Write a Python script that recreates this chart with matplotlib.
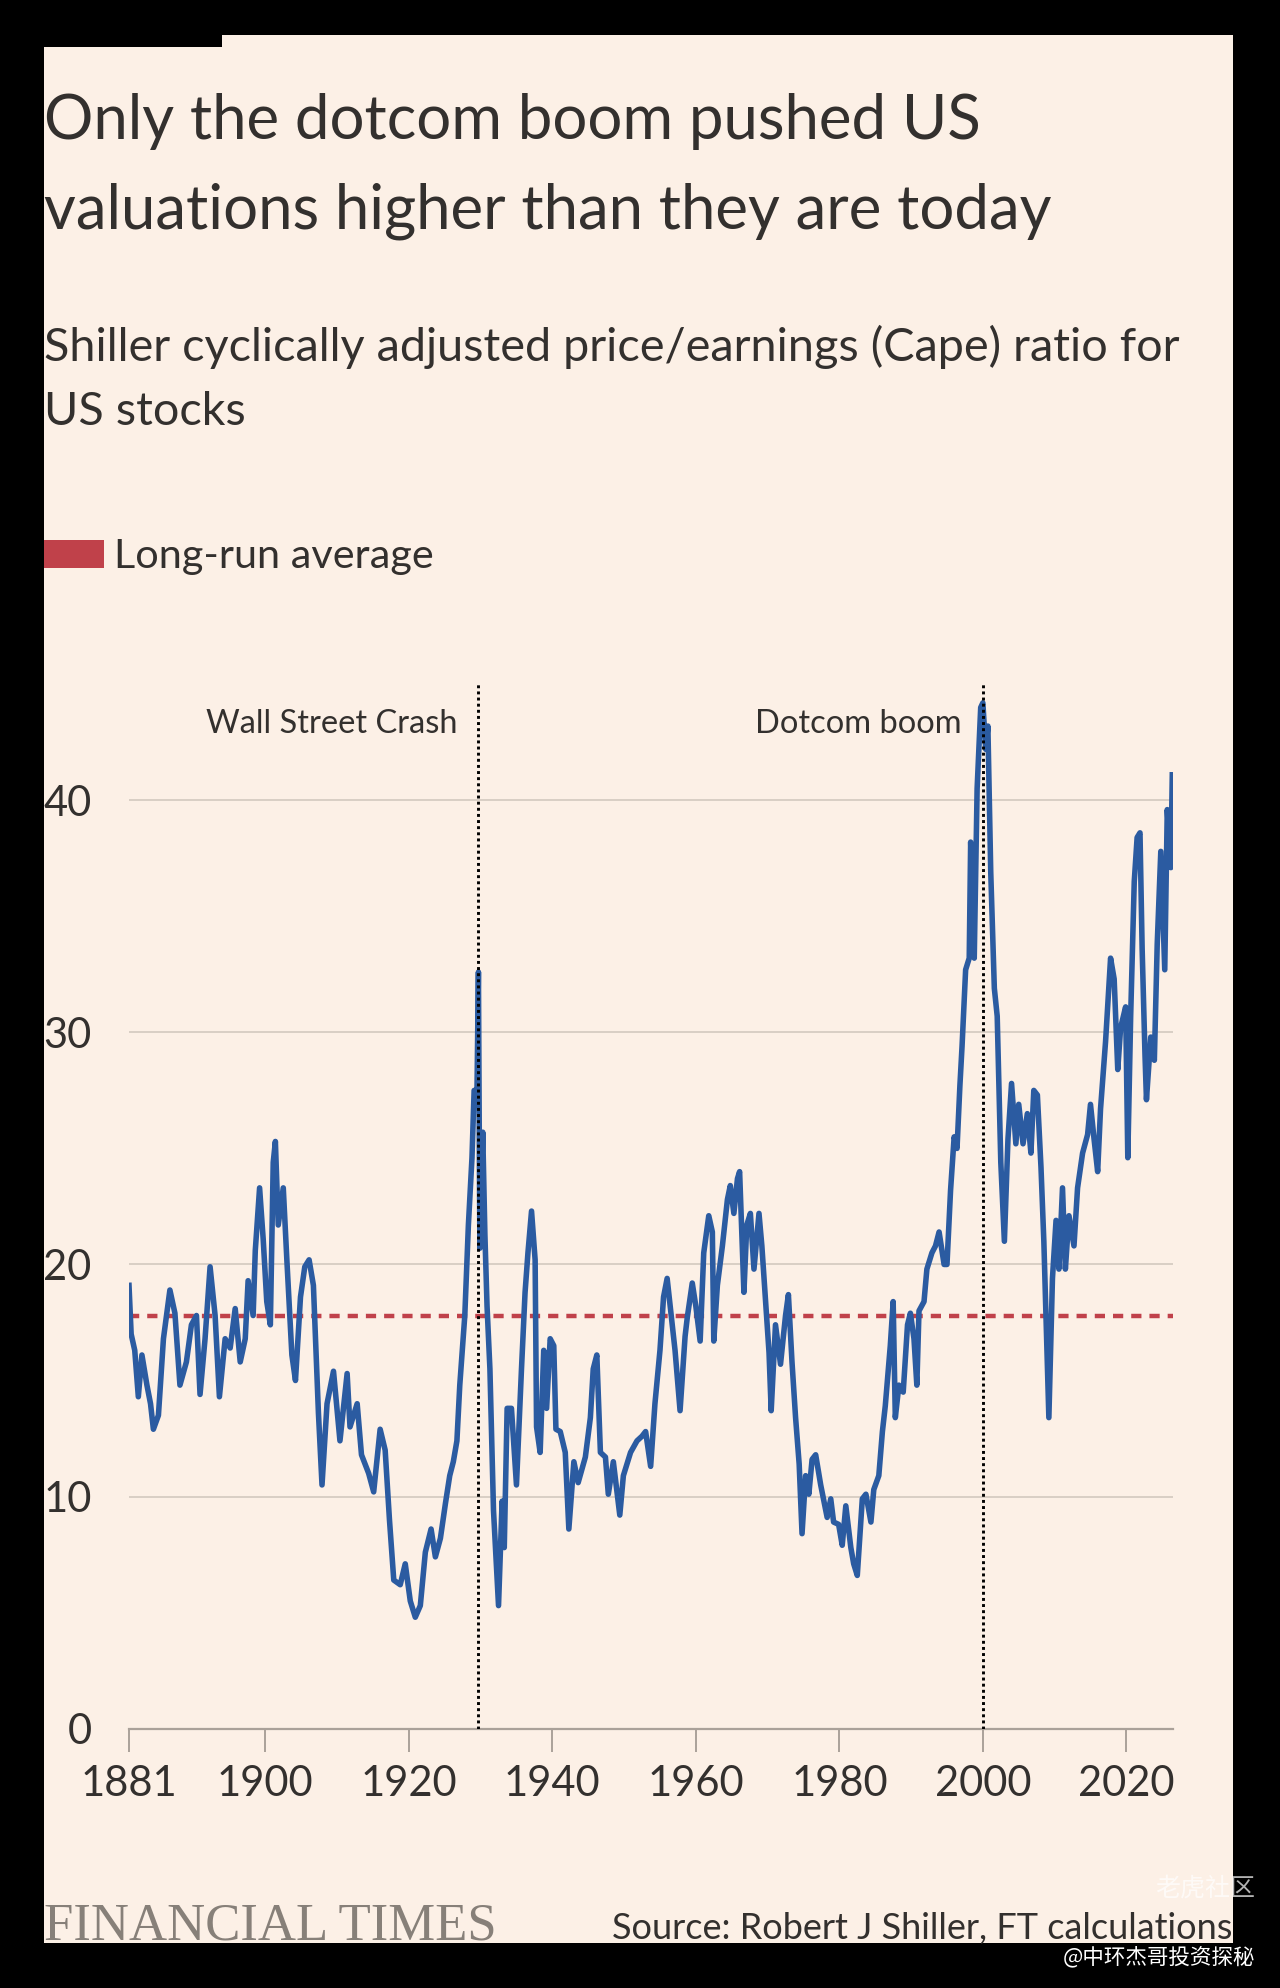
import matplotlib
matplotlib.use("Agg")
import matplotlib.pyplot as plt
from matplotlib.patches import Rectangle

# Shiller Cape ratio
years = [
    1881.0, 1881.3, 1881.8, 1882.3, 1882.8, 1883.5, 1884.0, 1884.4, 1885.1, 1885.8,
    1886.7, 1887.4, 1888.1, 1889.0, 1889.7, 1890.4, 1890.9, 1891.6, 1892.3, 1893.0,
    1893.6, 1894.4, 1895.1, 1895.8, 1896.5, 1897.2, 1897.6, 1898.3, 1898.6, 1899.2,
    1899.7, 1900.2, 1900.7, 1901.1, 1901.4, 1901.8, 1902.5, 1903.0, 1903.7, 1904.2,
    1904.9, 1905.5, 1906.1, 1906.7, 1907.4, 1907.9, 1908.6, 1909.5, 1910.4, 1911.4,
    1911.8, 1912.8, 1913.4, 1914.4, 1915.1, 1916.0, 1916.7, 1917.3, 1917.9, 1918.8,
    1919.5, 1920.2, 1920.9, 1921.6, 1922.3, 1923.1, 1923.7, 1924.4, 1925.1, 1925.7,
    1926.2, 1926.7, 1927.1, 1927.8, 1928.3, 1928.8, 1929.1, 1929.5, 1929.7, 1929.9,
    1930.3, 1930.6, 1930.9, 1931.3, 1931.8, 1932.5, 1933.0, 1933.3, 1933.7, 1934.3,
    1935.0, 1935.7, 1936.2, 1936.6, 1937.1, 1937.6, 1937.8, 1938.3, 1938.8, 1939.2,
    1939.7, 1940.2, 1940.5, 1941.1, 1941.8, 1942.3, 1943.0, 1943.6, 1944.6, 1945.3,
    1945.7, 1946.2, 1946.7, 1947.4, 1947.8, 1948.5, 1949.4, 1949.9, 1950.9, 1951.8,
    1952.5, 1953.0, 1953.7, 1954.3, 1955.0, 1955.5, 1956.0, 1956.7, 1957.1, 1957.8,
    1958.5, 1958.8, 1959.5, 1960.0, 1960.6, 1961.1, 1961.8, 1962.3, 1962.5, 1963.0,
    1963.7, 1964.4, 1964.8, 1965.3, 1965.8, 1966.1, 1966.4, 1966.7, 1967.1, 1967.6,
    1968.1, 1968.8, 1969.2, 1969.7, 1970.2, 1970.5, 1971.1, 1971.8, 1972.5, 1972.9,
    1973.4, 1973.9, 1974.4, 1974.8, 1975.3, 1975.75, 1976.2, 1976.7, 1977.4, 1978.3,
    1978.8, 1979.2, 1979.9, 1980.4, 1980.9, 1981.6, 1982.0, 1982.5, 1983.2, 1983.7,
    1984.4, 1984.8, 1985.5, 1986.0, 1986.4, 1987.1, 1987.5, 1987.8, 1988.3, 1988.9,
    1989.5, 1989.9, 1990.4, 1990.8, 1991.1, 1991.8, 1992.2, 1992.9, 1993.4, 1993.9,
    1994.6, 1995.0, 1995.5, 1996.0, 1996.4, 1996.8, 1997.1, 1997.6, 1998.1, 1998.3,
    1998.8, 1999.2, 1999.7, 2000.0, 2000.4, 2000.7, 2001.1, 2001.6, 2002.0, 2002.5,
    2003.0, 2003.5, 2004.0, 2004.6, 2005.0, 2005.6, 2006.2, 2006.7, 2007.1, 2007.6,
    2008.1, 2008.5, 2009.0, 2009.2, 2009.7, 2010.2, 2010.6, 2011.1, 2011.5, 2012.0,
    2012.7, 2013.2, 2013.9, 2014.6, 2015.0, 2015.5, 2016.0, 2016.4, 2017.1, 2017.8,
    2018.3, 2018.8, 2019.2, 2019.9, 2020.2, 2020.6, 2021.1, 2021.5, 2021.9, 2022.2,
    2022.6, 2022.8, 2023.4, 2023.9, 2024.3, 2024.8, 2025.35, 2025.7, 2026.2, 2026.4,
]
cape = [
    19.1, 17.0, 16.3, 14.3, 16.1, 14.8, 14.0, 12.9, 13.5, 16.8,
    18.9, 17.9, 14.8, 15.8, 17.4, 17.8, 14.4, 16.8, 19.9, 17.8,
    14.3, 16.8, 16.4, 18.1, 15.8, 16.8, 19.3, 17.8, 20.6, 23.3,
    21.1, 18.4, 17.4, 24.4, 25.3, 21.7, 23.3, 20.2, 16.1, 15.0,
    18.6, 19.9, 20.2, 19.1, 13.6, 10.5, 14.0, 15.4, 12.4, 15.3,
    13.0, 14.0, 11.8, 11.0, 10.2, 12.9, 12.0, 9.0, 6.4, 6.2,
    7.1, 5.5, 4.8, 5.3, 7.6, 8.6, 7.4, 8.2, 9.7, 10.9,
    11.5, 12.4, 14.8, 17.8, 21.7, 24.6, 27.5, 27.5, 32.6, 20.7,
    25.7, 21.3, 18.2, 15.5, 9.4, 5.3, 9.8, 7.8, 13.8, 13.8,
    10.5, 15.5, 18.8, 20.5, 22.3, 20.2, 13.0, 11.9, 16.3, 13.8,
    16.8, 16.5, 12.9, 12.8, 11.9, 8.6, 11.5, 10.6, 11.7, 13.4,
    15.5, 16.1, 11.9, 11.7, 10.1, 11.5, 9.2, 10.9, 11.9, 12.4,
    12.6, 12.8, 11.3, 14.0, 16.3, 18.6, 19.4, 17.4, 16.3, 13.7,
    16.9, 17.7, 19.2, 18.2, 16.7, 20.5, 22.1, 21.4, 16.7, 19.1,
    20.8, 22.8, 23.4, 22.2, 23.7, 24.0, 21.4, 18.8, 21.7, 22.2,
    19.8, 22.2, 20.8, 18.5, 16.2, 13.7, 17.4, 15.7, 17.8, 18.7,
    15.8, 13.4, 11.4, 8.4, 10.9, 10.1, 11.6, 11.8, 10.5, 9.1,
    9.9, 8.9, 8.8, 7.9, 9.6, 7.8, 7.1, 6.6, 9.9, 10.1,
    8.9, 10.3, 10.9, 12.8, 13.9, 16.5, 18.4, 13.4, 14.8, 14.5,
    17.4, 17.9, 16.8, 14.8, 18.0, 18.4, 19.8, 20.5, 20.8, 21.4,
    20.0, 20.0, 23.2, 25.5, 25.0, 27.7, 29.4, 32.7, 33.2, 38.2,
    33.2, 40.5, 44.0, 44.2, 42.2, 43.2, 36.9, 31.9, 30.7, 24.4,
    21.0, 25.4, 27.8, 25.2, 26.9, 25.2, 26.5, 24.8, 27.5, 27.3,
    24.2, 21.0, 15.6, 13.4, 19.4, 21.9, 19.8, 23.3, 19.8, 22.1,
    20.8, 23.3, 24.8, 25.6, 26.9, 25.4, 24.0, 26.7, 29.6, 33.2,
    32.3, 28.4, 30.2, 31.1, 24.6, 30.7, 36.5, 38.4, 38.6, 33.6,
    29.0, 27.1, 29.8, 28.8, 33.8, 37.8, 32.7, 39.6, 37.1, 41.1,
]
long_run_avg = 17.8
events = ["Wall Street Crash", "Dotcom boom"]
event_years = [1929.7, 2000.0]
xticks = [1881, 1900, 1920, 1940, 1960, 1980, 2000, 2020]
yticks = [0, 10, 20, 30, 40]

cream = "#fcf0e6"
ink = "#33302e"
blue = "#2b5ba1"
red = "#c0414a"
grid_c = "#d2c9bf"
axis_c = "#aaa199"

plt.rcParams['font.family'] = ['Lato', 'DejaVu Sans']

W, H = 1280, 1988
fig = plt.figure(figsize=(W / 100, H / 100), dpi=100, facecolor="black")

# cream panel and the little black notch top left
fig.patches.append(Rectangle((44 / W, 45 / H), (1233 - 44) / W, (1943 - 35) / H,
                             transform=fig.transFigure, facecolor=cream, edgecolor="none", zorder=-2))
fig.patches.append(Rectangle((44 / W, 1 - 47 / H), (222 - 44) / W, 12 / H,
                             transform=fig.transFigure, facecolor="black", edgecolor="none", zorder=-1))

# titles
fig.text(44 / W, 1 - 139 / H, "Only the dotcom boom pushed US", fontsize=44.5, color=ink, va="baseline")
fig.text(44 / W, 1 - 229 / H, "valuations higher than they are today", fontsize=44.5, color=ink, va="baseline")
fig.text(44 / W, 1 - 361 / H, "Shiller cyclically adjusted price/earnings (Cape) ratio for",
         fontsize=33.7, color=ink, va="baseline")
fig.text(44 / W, 1 - 425 / H, "US stocks", fontsize=33.7, color=ink, va="baseline")

# legend
fig.patches.append(Rectangle((44 / W, 1 - 568 / H), 60 / W, 28 / H,
                             transform=fig.transFigure, facecolor=red, edgecolor="none"))
fig.text(114 / W, 1 - 568 / H, "Long-run average", fontsize=29.8, color=ink, va="baseline")

# chart
ax = fig.add_axes([129 / W, 1 - 1728.6 / H, (1173 - 129) / W, (1728.6 - 684.3) / H])
ax.set_facecolor("none")
ax.plot(years, cape, color=blue, lw=4.0, solid_joinstyle="round", zorder=3)
ax.axhline(long_run_avg, color=red, lw=3.2, linestyle=(0, (2.3, 1.8)), zorder=2)
ax.vlines(event_years, 0, 45, colors="black", lw=2.1, linestyles=(0, (1, 1.1)), zorder=4)
for label, yr in zip(events, event_years):
    ax.text(yr - 2.9, 42.9, label, fontsize=23.5, color=ink, ha="right", va="baseline")

ax.set_xlim(1881, 2026.5)
ax.set_ylim(0, 45)
ax.set_xticks(xticks)
ax.set_yticks(yticks)
ax.tick_params(axis="x", length=16.5, width=1.4, color=axis_c, pad=10, labelsize=30, labelcolor=ink)
ax.tick_params(axis="y", length=0, pad=27, labelsize=30, labelcolor=ink)
for s in ["top", "right", "left"]:
    ax.spines[s].set_visible(False)
ax.spines["bottom"].set_color(axis_c)
ax.spines["bottom"].set_linewidth(1.6)
ax.yaxis.grid(True, color=grid_c, lw=1.2, zorder=1)
ax.set_axisbelow(True)

# footer
fig.text(44 / W, 1 - 1939 / H, "FINANCIAL TIMES", fontsize=38, color="#878079",
         family="Liberation Serif", va="baseline")
fig.text(1232 / W, 1 - 1939 / H, "Source: Robert J Shiller, FT calculations", fontsize=26,
         color=ink, ha="right", va="baseline")
fig.text(1255 / W, 1 - 1888 / H, "老虎社区", fontsize=18, color="white", alpha=0.7,
         ha="right", va="center", family=["Noto Sans CJK SC", "DejaVu Sans"])
fig.text(1255 / W, 1 - 1957 / H, "@中环杰哥投资探秘", fontsize=15.5, color="white",
         ha="right", va="center", family=["Noto Sans CJK SC", "DejaVu Sans"])

fig.savefig("out.png", dpi=100, facecolor="black")
